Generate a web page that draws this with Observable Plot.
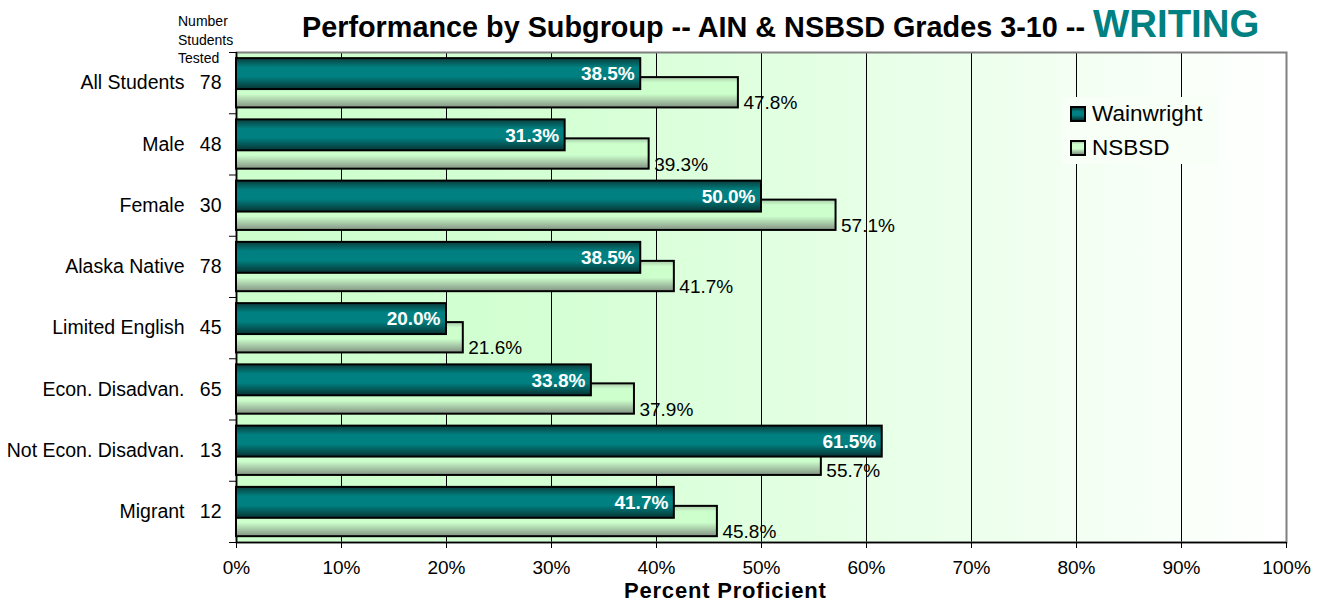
<!DOCTYPE html>
<html>
<head>
<meta charset="utf-8">
<script src="https://cdn.jsdelivr.net/npm/d3@7"></script>
<script src="https://cdn.jsdelivr.net/npm/@observablehq/plot@0.6"></script>
<style>
  html, body { margin: 0; padding: 0; background: #ffffff; }
  #wrap { position: relative; width: 1322px; height: 602px; font-family: "Liberation Sans", Arial, sans-serif; color: #000; }
  #title { position: absolute; left: 302px; top: 4.5px; display: flex; align-items: baseline; white-space: pre; line-height: 1; font-weight: bold; }
  #title .main { font-size: 28.8px; color: #000; }
  #title .subject { font-size: 38.4px; color: #008080; }
  #header { position: absolute; left: 178px; top: 12px; font-size: 14px; line-height: 18.5px; }
  #xlabel { position: absolute; left: 624px; top: 580px; font-size: 22px; line-height: 1; font-weight: bold; letter-spacing: 0.8px; white-space: nowrap; }
  #legend { position: absolute; left: 1062px; top: 97px; width: 156px; height: 67px; background: #f7fff7; }
  #legend .row { position: absolute; left: 8px; display: flex; align-items: center; height: 17px; font-size: 22.5px; }
  #legend .sw { width: 16px; height: 16px; box-sizing: border-box; border: 2px solid #000; margin-right: 6px; }
</style>
</head>
<body>
<div id="wrap">
  <div id="chart"></div>
  <div id="title"><span class="main">Performance by Subgroup -- AIN &amp; NSBSD Grades 3-10 -- </span><span class="subject">WRITING</span></div>
  <div id="header">Number<br>Students<br>Tested</div>
  <div id="xlabel">Percent Proficient</div>
  <div id="legend"></div>
</div>
<script>
// ---- data ----
const categories = ["All Students", "Male", "Female", "Alaska Native", "Limited English", "Econ. Disadvan.", "Not Econ. Disadvan.", "Migrant"];
const tested = [78, 48, 30, 78, 45, 65, 13, 12];
const wainwright = [38.5, 31.3, 50.0, 38.5, 20.0, 33.8, 61.5, 41.7];
const nsbsd = [47.8, 39.3, 57.1, 41.7, 21.6, 37.9, 55.7, 45.8];
const seriesNames = ["Wainwright", "NSBSD"];
const xTicks = [0, 10, 20, 30, 40, 50, 60, 70, 80, 90, 100];

const rows = categories.map((c, i) => ({cat: c, i, n: tested[i], w: wainwright[i], s: nsbsd[i]}));
const bandTicks = d3.range(0, categories.length + 1);
const fmt = v => v.toFixed(1) + "%";

const chart = Plot.plot({
  width: 1322,
  height: 602,
  marginLeft: 236,
  marginRight: 36,
  marginTop: 52,
  marginBottom: 60,
  style: {fontFamily: "'Liberation Sans', Arial, sans-serif", fontSize: "19px", color: "#000", background: "transparent", overflow: "visible"},
  x: {domain: [0, 100]},
  y: {domain: [categories.length, 0]},
  marks: [
    Plot.frame({fill: "url(#bgGrad)", stroke: "none"}),
    Plot.ruleX(xTicks.filter(d => d > 0 && d < 100), {stroke: "#000", strokeWidth: 1}),
    Plot.frame({stroke: "#808080", strokeWidth: 2, fill: "none"}),
    Plot.ruleX([0], {stroke: "#000", strokeWidth: 1.5}),
    Plot.ruleY([categories.length], {stroke: "#000", strokeWidth: 1.5}),
    Plot.axisY({ticks: bandTicks, tickFormat: () => "", tickSize: 7, stroke: "#000"}),
    Plot.axisX({ticks: xTicks, tickFormat: d => d + "%", tickSize: 6, tickPadding: 12, fontSize: 19, label: null, stroke: "#000", fill: "#000"}),
    // NSBSD bars (behind)
    Plot.rectX(rows, {x1: 0, x2: "s", y1: d => d.i + 0.41, y2: d => d.i + 0.905, fill: "url(#nGrad)", stroke: "#000", strokeWidth: 2}),
    // Wainwright bars (in front)
    Plot.rectX(rows, {x1: 0, x2: "w", y1: d => d.i + 0.10, y2: d => d.i + 0.605, fill: "url(#wGrad)", stroke: "#000", strokeWidth: 2}),
    Plot.text(rows, {x: "w", y: d => d.i + 0.355, text: d => fmt(d.w), textAnchor: "end", dx: -6, fill: "#fff", fontWeight: "bold", fontSize: 19}),
    Plot.text(rows, {x: "s", y: d => d.i + 0.83, text: d => fmt(d.s), textAnchor: "start", dx: 5, fill: "#000", fontSize: 19}),
    // category labels & counts
    Plot.text(rows, {x: 0, y: d => d.i + 0.5, text: "cat", textAnchor: "end", dx: -52, fill: "#000", fontSize: 19.5}),
    Plot.text(rows, {x: 0, y: d => d.i + 0.5, text: d => String(d.n), textAnchor: "end", dx: -15, fill: "#000", fontSize: 19.5})
  ]
});

const ns = "http://www.w3.org/2000/svg";
const defs = document.createElementNS(ns, "defs");
defs.innerHTML = `
  <linearGradient id="bgGrad" x1="0" y1="0" x2="1" y2="0">
    <stop offset="0" stop-color="#ccffcc"/>
    <stop offset="0.3" stop-color="#d4ffd4"/>
    <stop offset="1" stop-color="#ffffff"/>
  </linearGradient>
  <linearGradient id="wGrad" x1="0" y1="0" x2="0" y2="1">
    <stop offset="0" stop-color="#0b3d3d"/>
    <stop offset="0.3" stop-color="#008080"/>
    <stop offset="0.6" stop-color="#008080"/>
    <stop offset="1" stop-color="#083333"/>
  </linearGradient>
  <linearGradient id="nGrad" x1="0" y1="0" x2="0" y2="1">
    <stop offset="0" stop-color="#a9c9a9"/>
    <stop offset="0.18" stop-color="#ccffcc"/>
    <stop offset="0.55" stop-color="#ccffcc"/>
    <stop offset="1" stop-color="#839383"/>
  </linearGradient>`;
chart.insertBefore(defs, chart.firstChild);
document.getElementById("chart").appendChild(chart);

// legend
const legend = document.getElementById("legend");
const swatchFills = ["linear-gradient(#0b3d3d, #008080 30%, #008080 60%, #083333)", "linear-gradient(#a9c9a9, #ccffcc 18%, #ccffcc 55%, #839383)"];
const rowTops = [8, 42];
seriesNames.forEach((name, k) => {
  const r = document.createElement("div");
  r.className = "row";
  r.style.top = rowTops[k] + "px";
  const sw = document.createElement("div");
  sw.className = "sw";
  sw.style.background = swatchFills[k];
  const t = document.createElement("span");
  t.textContent = name;
  r.appendChild(sw);
  r.appendChild(t);
  legend.appendChild(r);
});
</script>
</body>
</html>
